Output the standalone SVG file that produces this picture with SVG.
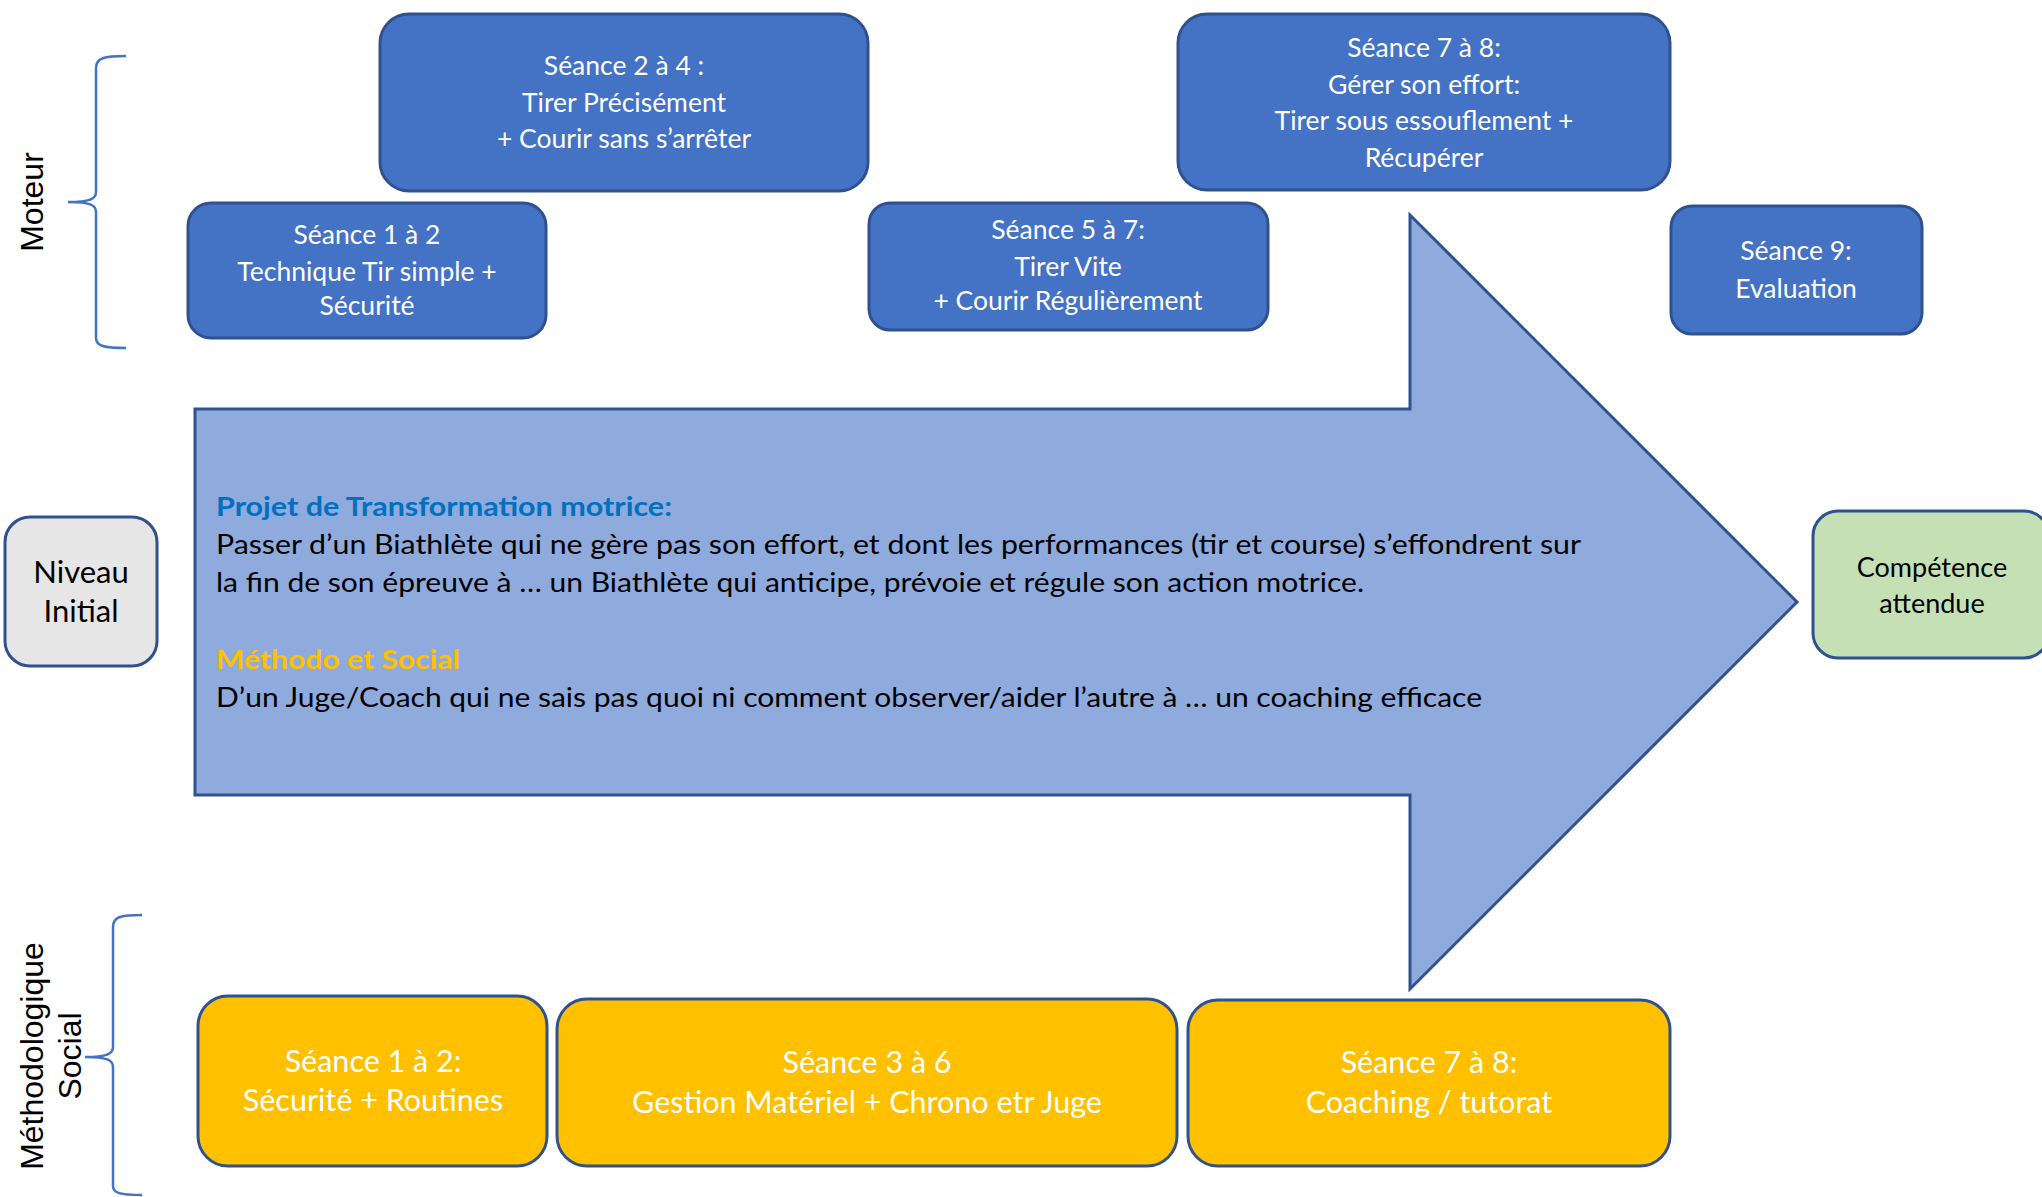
<svg xmlns="http://www.w3.org/2000/svg" width="2042" height="1197" viewBox="0 0 2042 1197">
<style>
.blue{fill:#4472c4;stroke:#2f528f;stroke-width:3}
.yel{fill:#ffc000;stroke:#2f528f;stroke-width:3}
.wt{font-family:Lato,"Open Sans",sans-serif;fill:#ffffff;text-anchor:middle}
.bt{font-size:26.5px}
.yt{font-size:30.5px}
.dk{font-family:Lato,"Open Sans",sans-serif;fill:#000000;font-size:27px}
.side{font-family:"Liberation Sans",Arial,sans-serif;font-size:32px;fill:#000000;text-anchor:middle}
.brace{fill:none;stroke:#4472c4;stroke-width:2.5}
</style>
<rect width="2042" height="1197" fill="#ffffff"/>
<g id="connectors">
<path id="arrow" d="M195,409 L1410,409 L1410,215 L1797,602 L1410,989 L1410,795 L195,795 Z" fill="#8faadc" stroke="#2f528f" stroke-width="3"/>
</g>
<g id="brace-moteur">
<path class="brace" d="M126,56 C104,56 96,58 96,68 L96,192 C96,199 90,202 68,202 C90,202 96,205 96,212 L96,338 C96,346 104,348 126,348"/>
<text class="side" transform="translate(43,202) rotate(-90)">Moteur</text>
</g>
<g id="brace-social">
<path class="brace" d="M142,915 C120,915 113,917 113,927 L113,1047 C113,1054 107,1057 85,1057 C107,1057 113,1060 113,1067 L113,1186 C113,1193 120,1195 142,1195"/>
<text class="side" transform="translate(32,1056) rotate(-90)"><tspan x="0" y="11">Méthodologique</tspan><tspan x="0" y="49">Social</tspan></text>
</g>
<g id="seance-2-4">
<rect class="blue" x="380" y="14" width="488" height="177" rx="29"/>
<text class="wt bt"><tspan x="624" y="75">Séance 2 à 4 :</tspan><tspan x="624" y="112">Tirer Précisément</tspan><tspan x="624" y="148">+ Courir sans s’arrêter</tspan></text>
</g>
<g id="seance-7-8">
<rect class="blue" x="1178" y="14" width="492" height="176" rx="29"/>
<text class="wt bt"><tspan x="1424" y="57">Séance 7 à 8:</tspan><tspan x="1424" y="94">Gérer son effort:</tspan><tspan x="1424" y="130">Tirer sous essouflement +</tspan><tspan x="1424" y="167">Récupérer</tspan></text>
</g>
<g id="seance-1-2">
<rect class="blue" x="188" y="203" width="358" height="135" rx="23"/>
<text class="wt bt"><tspan x="367" y="244">Séance 1 à 2</tspan><tspan x="367" y="281">Technique Tir simple +</tspan><tspan x="367" y="315">Sécurité</tspan></text>
</g>
<g id="seance-5-7">
<rect class="blue" x="869" y="203" width="399" height="127" rx="21"/>
<text class="wt bt"><tspan x="1068" y="239">Séance 5 à 7:</tspan><tspan x="1068" y="276">Tirer Vite</tspan><tspan x="1068" y="310">+ Courir Régulièrement</tspan></text>
</g>
<g id="seance-9">
<rect class="blue" x="1671" y="206" width="251" height="128" rx="21"/>
<text class="wt bt"><tspan x="1796" y="260">Séance 9:</tspan><tspan x="1796" y="298">Evaluation</tspan></text>
</g>
<g id="niveau-initial">
<rect x="5" y="517" width="152" height="149" rx="25" fill="#e7e6e6" stroke="#2f528f" stroke-width="3"/>
<text class="dk" style="font-size:31px;text-anchor:middle"><tspan x="81" y="583">Niveau</tspan><tspan x="81" y="622">Initial</tspan></text>
</g>
<g id="competence">
<rect x="1813" y="511" width="236" height="147" rx="25" fill="#c5e0b4" stroke="#2f528f" stroke-width="3"/>
<text class="dk" style="text-anchor:middle"><tspan x="1932" y="577">Compétence</tspan><tspan x="1932" y="613">attendue</tspan></text>
</g>
<g id="projet">
<text class="dk" x="216" y="516" style="font-weight:bold;fill:#0070c0" textLength="456" lengthAdjust="spacingAndGlyphs">Projet de Transformation motrice:</text>
<text class="dk" x="216" y="554" textLength="1365" lengthAdjust="spacingAndGlyphs">Passer d’un Biathlète qui ne gère pas son effort, et dont les performances (tir et course) s’effondrent sur</text>
<text class="dk" x="216" y="592" textLength="1148" lengthAdjust="spacingAndGlyphs">la fin de son épreuve à … un Biathlète qui anticipe, prévoie et régule son action motrice.</text>
<text class="dk" x="216" y="669" style="font-weight:bold;fill:#ffc000" textLength="244" lengthAdjust="spacingAndGlyphs">Méthodo et Social</text>
<text class="dk" x="216" y="707" textLength="1266" lengthAdjust="spacingAndGlyphs">D’un Juge/Coach qui ne sais pas quoi ni comment observer/aider l’autre à … un coaching efficace</text>
</g>
<g id="social-1-2">
<rect class="yel" x="198" y="996" width="349" height="170" rx="30"/>
<text class="wt yt"><tspan x="373" y="1072">Séance 1 à 2:</tspan><tspan x="373" y="1111">Sécurité + Routines</tspan></text>
</g>
<g id="social-3-6">
<rect class="yel" x="557" y="999" width="620" height="167" rx="30"/>
<text class="wt yt"><tspan x="867" y="1073">Séance 3 à 6</tspan><tspan x="867" y="1113">Gestion Matériel + Chrono etr Juge</tspan></text>
</g>
<g id="social-7-8">
<rect class="yel" x="1188" y="1000" width="482" height="166" rx="30"/>
<text class="wt yt"><tspan x="1429" y="1073">Séance 7 à 8:</tspan><tspan x="1429" y="1113">Coaching / tutorat</tspan></text>
</g>
</svg>
